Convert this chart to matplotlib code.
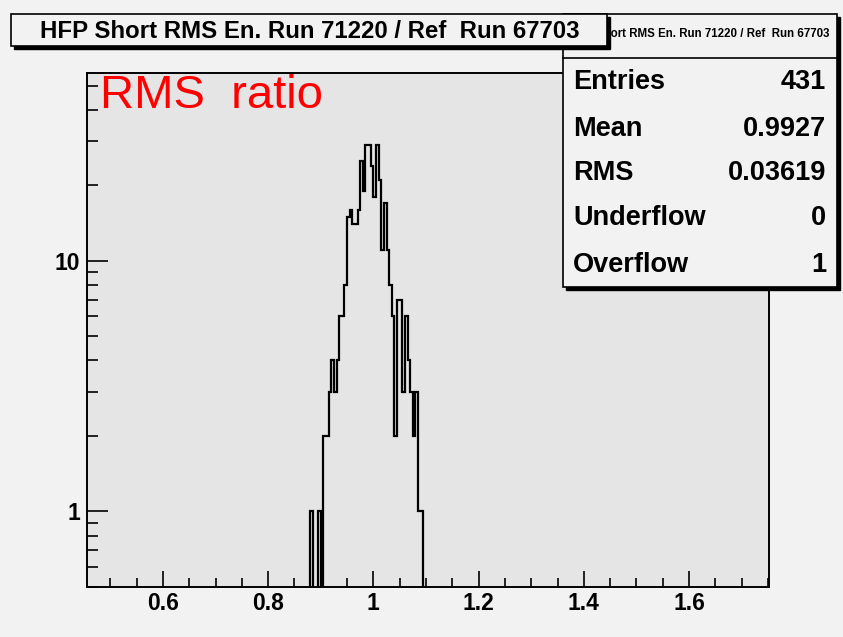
import numpy as np
import matplotlib
matplotlib.use("Agg")
import matplotlib.pyplot as plt
from matplotlib.patches import Rectangle
from matplotlib.ticker import MultipleLocator, LogLocator, NullFormatter, FuncFormatter

plt.rcParams["font.family"] = ["Liberation Sans", "DejaVu Sans"]

# histogram: bins of 0.005 starting at 0.880
bin_start = 0.880
bin_width = 0.005
counts = [1, 0, 0, 1, 0, 2, 2, 3, 4, 3, 4, 6, 6, 8, 15, 16, 14, 14, 16, 25,
          19, 29, 29, 24, 18, 29, 21, 11, 17, 11, 8, 6, 2, 7, 7, 3, 6, 4, 3, 2,
          3, 1, 1]
edges = bin_start + bin_width * np.arange(len(counts) + 1)

title = "HFP Short RMS En. Run 71220 / Ref  Run 67703"
stat_names = ["Entries", "Mean", "RMS", "Underflow", "Overflow"]
stat_values = ["431", "0.9927", "0.03619", "0", "1"]

W, H = 843, 637


def fx(px):
    return px / W


def fy(py):
    return 1 - py / H


fig = plt.figure(figsize=(W / 100, H / 100), dpi=100, facecolor="#f2f2f2")
ax = fig.add_axes([fx(87), fy(586.7), (769 - 87) / W, (586.7 - 73) / H])
ax.set_facecolor("#e5e5e5")
ax.set_yscale("log")

ax.stairs(counts, edges, baseline=0, fill=False, color="black", lw=1.6)

ax.set_xlim(0.4557, 1.752)
ax.set_ylim(0.5, 56.2)

ax.xaxis.set_major_locator(MultipleLocator(0.2))
ax.xaxis.set_minor_locator(MultipleLocator(0.05))
ax.xaxis.set_major_formatter(FuncFormatter(lambda v, p: f"{v:g}"))
ax.yaxis.set_major_locator(LogLocator(base=10))
ax.yaxis.set_minor_locator(LogLocator(base=10, subs=np.arange(2, 10)))
ax.yaxis.set_minor_formatter(NullFormatter())
ax.yaxis.set_major_formatter(FuncFormatter(lambda v, p: f"{v:g}"))

ax.tick_params(axis="x", which="major", direction="in", length=11.5, width=1.2, pad=4, labelsize=16.5)
ax.tick_params(axis="x", which="minor", direction="in", length=6.5, width=1.2)
ax.tick_params(axis="y", which="major", direction="in", length=15, width=1.2, pad=5, labelsize=16.5)
ax.tick_params(axis="y", which="minor", direction="in", length=8, width=1.2)
for lab in ax.get_xticklabels() + ax.get_yticklabels():
    lab.set_fontweight("bold")
for s in ax.spines.values():
    s.set_linewidth(1.4)

# stats box
sx0, sx1, sy0, sy1 = 562.7, 837.3, 14, 286.7
fig.patches.append(Rectangle((fx(sx0 + 3), fy(sy1 + 3)), (sx1 - sx0) / W, (sy1 - sy0) / H,
                             transform=fig.transFigure, facecolor="black", edgecolor="black", zorder=4))
fig.patches.append(Rectangle((fx(sx0), fy(sy1)), (sx1 - sx0) / W, (sy1 - sy0) / H,
                             transform=fig.transFigure, facecolor="#f2f2f2", edgecolor="black", lw=1.2, zorder=5))
fig.lines.append(plt.Line2D([fx(sx0), fx(sx1)], [fy(58.3), fy(58.3)], transform=fig.transFigure,
                            color="black", lw=1.2, zorder=6))
fig.text(fx(700), fy(34), title, fontsize=8.3, fontweight="bold", ha="center", va="center", zorder=6)
row_y = [82, 129, 173, 218, 265]
for name, val, y in zip(stat_names, stat_values, row_y):
    fig.text(fx(573), fy(y), name, fontsize=19.5, fontweight="bold", ha="left", va="center", zorder=6)
    fig.text(fx(826), fy(y), val, fontsize=19.5, fontweight="bold", ha="right", va="center", zorder=6)

# title box
tx0, tx1, ty0, ty1 = 11, 607, 14, 46
fig.patches.append(Rectangle((fx(tx0 + 3), fy(ty1 + 3)), (tx1 - tx0) / W, (ty1 - ty0) / H,
                             transform=fig.transFigure, facecolor="black", edgecolor="black", zorder=7))
fig.patches.append(Rectangle((fx(tx0), fy(ty1)), (tx1 - tx0) / W, (ty1 - ty0) / H,
                             transform=fig.transFigure, facecolor="#f2f2f2", edgecolor="black", lw=1.2, zorder=8))
fig.text(fx(310), fy(31), title, fontsize=17.3, fontweight="bold", ha="center", va="center", zorder=9)

fig.text(fx(100), fy(108), "RMS  ratio", fontsize=34, color="red", ha="left", va="baseline", zorder=10)

fig.savefig("out.png", dpi=100, facecolor=fig.get_facecolor())
